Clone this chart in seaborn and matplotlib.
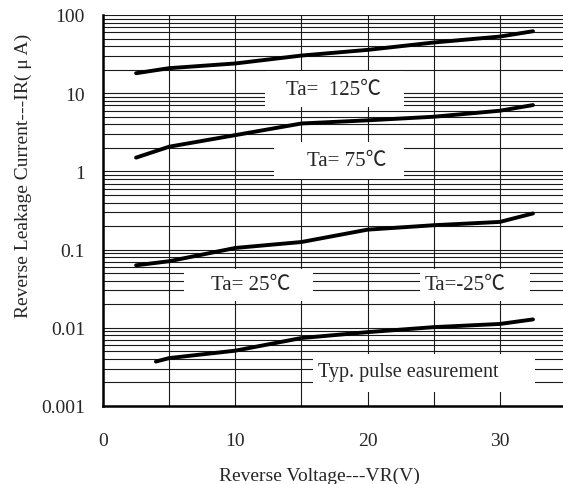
import pandas as pd
import numpy as np
import matplotlib
matplotlib.use("Agg")
import matplotlib.pyplot as plt
import seaborn as sns
from matplotlib.patches import Rectangle
from matplotlib.ticker import LogLocator, FixedLocator, NullFormatter

# data (VR in V, IR in uA)
vr = [2.5, 5, 10, 15, 20, 25, 30, 32.5]
ir_125 = [18, 20.9, 24, 30.3, 35.8, 44.5, 53, 62]
ir_75 = [1.5, 2.07, 2.91, 4.1, 4.5, 5.0, 5.97, 7.05]
ir_25 = [0.063, 0.071, 0.105, 0.125, 0.18, 0.205, 0.226, 0.29]
vr_m25 = [4, 5, 10, 15, 20, 25, 30, 32.5]
ir_m25 = [0.0037, 0.0041, 0.0051, 0.0074, 0.0088, 0.0102, 0.0112, 0.0128]

df = pd.concat([
    pd.DataFrame({'VR': vr, 'IR': ir_125, 'Ta': '125'}),
    pd.DataFrame({'VR': vr, 'IR': ir_75, 'Ta': '75'}),
    pd.DataFrame({'VR': vr, 'IR': ir_25, 'Ta': '25'}),
    pd.DataFrame({'VR': vr_m25, 'IR': ir_m25, 'Ta': '-25'}),
])

sns.set_style('white')
plt.rcParams['font.family'] = ['Liberation Serif', 'Noto Sans CJK TC', 'DejaVu Sans']

fig = plt.figure(figsize=(5.63, 4.85), dpi=100)
ax = fig.add_axes([103/563, 78/485, 460/563, 391/485])

ax.set_yscale('log')
ax.set_xlim(0, 34.77)
ax.set_ylim(0.001, 100)

ax.xaxis.set_major_locator(FixedLocator([0, 10, 20, 30]))
ax.xaxis.set_minor_locator(FixedLocator([5, 15, 25]))
ax.yaxis.set_minor_locator(LogLocator(base=10, subs=np.arange(2, 10), numticks=20))
ax.yaxis.set_minor_formatter(NullFormatter())
ax.set_yticks([0.001, 0.01, 0.1, 1, 10, 100])
ax.set_yticklabels(['0.001', '0.01', '0.1', '1', '10', '100'])

ax.grid(True, which='both', color='#1a1a1a', lw=0.8)
ax.set_axisbelow(True)
ax.tick_params(which='both', length=0, labelsize=14)
ax.tick_params(axis='x', pad=19)
ax.tick_params(axis='y', pad=13)

for s in ['top', 'right']:
    ax.spines[s].set_visible(False)
for s in ['left', 'bottom']:
    ax.spines[s].set_color('black')
    ax.spines[s].set_linewidth(1.8)

# white label boxes over the grid
boxes = [
    (12.24, 22.75, 6.67, 19.2),
    (12.93, 22.75, 0.80, 2.38),
    (6.12, 15.87, 0.022, 0.0565),
    (23.96, 32.27, 0.022, 0.0565),
    (15.87, 32.65, 0.00151, 0.00462),
]
for x0, x1, y0, y1 in boxes:
    ax.add_patch(Rectangle((x0, y0), x1 - x0, y1 - y0, facecolor='white',
                           edgecolor='none', zorder=1.5))

sns.lineplot(data=df, x='VR', y='IR', units='Ta', estimator=None, color='black',
             lw=2.8, ax=ax, zorder=3, solid_capstyle='round')

labels = [
    (17.4, 11.3, 'Ta=  125℃', 15),
    (18.4, 1.36, 'Ta= 75℃', 15),
    (11.2, 0.0363, 'Ta= 25℃', 15),
    (27.4, 0.0363, 'Ta=-25℃', 15),
    (23.05, 0.0028, 'Typ. pulse easurement', 14.5),
]
for x, y, t, fs in labels:
    ax.text(x, y, t, ha='center', va='center', fontsize=fs, zorder=4)

ax.set_xlabel('Reverse Voltage---VR(V)', fontsize=14)
ax.set_ylabel('Reverse Leakage Current---IR( μ A)', fontsize=14)
ax.xaxis.set_label_coords(0.47, -0.155)
ax.yaxis.set_label_coords(-0.155, 0.59)

fig.savefig('out.png', dpi=100)
